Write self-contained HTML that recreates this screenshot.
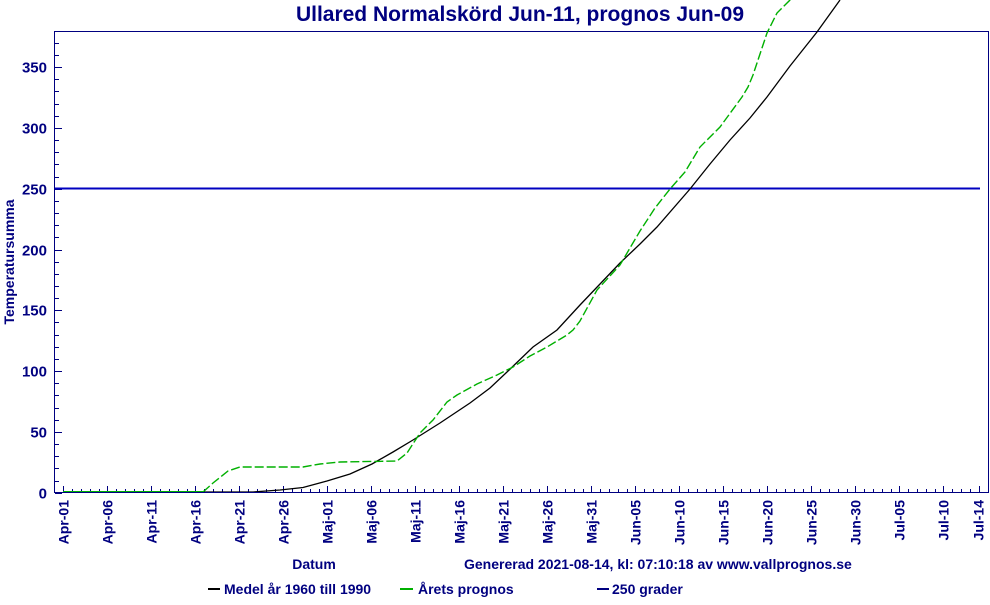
<!DOCTYPE html>
<html><head><meta charset="utf-8"><style>
body{margin:0;background:#fff;width:990px;height:600px;overflow:hidden}
svg text{font-family:"Liberation Sans",Arial,sans-serif;font-weight:bold;fill:#000080}
</style></head><body>
<svg id="s" width="990" height="600" xmlns="http://www.w3.org/2000/svg">
<defs><clipPath id="c"><rect x="55" y="0" width="934" height="492"/></clipPath></defs>
<text x="520" y="21" font-size="21" text-anchor="middle">Ullared Normalskörd Jun-11, prognos Jun-09</text>
<rect x="54.5" y="31.5" width="934" height="461" fill="none" stroke="#000080" stroke-width="1"/>
<g id="ticks" stroke="#000080" stroke-width="1"></g>
<g id="labels"></g>
<line x1="55" y1="188.5" x2="980" y2="188.5" stroke="#0000c0" stroke-width="2"/>
<g clip-path="url(#c)">
<path id="black" fill="none" stroke="#000" stroke-width="1.3"/>
<path id="green" fill="none" stroke="#00b000" stroke-width="1.4" stroke-dasharray="9,3"/>
<line x1="63" y1="492" x2="203" y2="492" stroke="#00b000" stroke-width="2"/>
</g>
<text transform="translate(14,262) rotate(-90)" font-size="14" text-anchor="middle">Temperatursumma</text>
<text x="314" y="569" font-size="14" text-anchor="middle">Datum</text>
<text x="464" y="569" font-size="14">Genererad 2021-08-14, kl: 07:10:18 av www.vallprognos.se</text>
<line x1="208" y1="589" x2="220" y2="589" stroke="#000" stroke-width="2"/>
<text x="224" y="594" font-size="14">Medel år 1960 till 1990</text>
<line x1="400" y1="589" x2="413" y2="589" stroke="#00b000" stroke-width="2"/>
<text x="418" y="594" font-size="14">Årets prognos</text>
<line x1="597" y1="589" x2="609" y2="589" stroke="#000080" stroke-width="2"/>
<text x="612" y="594" font-size="14">250 grader</text>
</svg>
<script>
var X=d=>63.3+8.8*d, Y=v=>492.7-1.216*v;
var ns="http://www.w3.org/2000/svg";
var tk=document.getElementById('ticks'),lb=document.getElementById('labels');
function ln(x1,y1,x2,y2){var l=document.createElementNS(ns,'line');l.setAttribute('x1',x1);l.setAttribute('y1',y1);l.setAttribute('x2',x2);l.setAttribute('y2',y2);tk.appendChild(l);}
function tx(t,attrs){var e=document.createElementNS(ns,'text');for(var k in attrs)e.setAttribute(k,attrs[k]);e.textContent=t;lb.appendChild(e);}
for(var v=0;v<=370;v+=10){var y=Math.round(Y(v))+0.5;ln(55,y,v%50==0?62:59,y);if(v%50==0)tx(String(v),{x:47,y:y+5,'font-size':15,'text-anchor':'end'});}
var names=["Apr-01","Apr-06","Apr-11","Apr-16","Apr-21","Apr-26","Maj-01","Maj-06","Maj-11","Maj-16","Maj-21","Maj-26","Maj-31","Jun-05","Jun-10","Jun-15","Jun-20","Jun-25","Jun-30","Jul-05","Jul-10","Jul-14"];
for(var d=0;d<=104;d++){var x=Math.round(X(d))+0.5;ln(x,492,x,d%5==0||d==104?486:489);}
names.forEach((n,i)=>{var d=i==21?104:i*5;var x=X(d);tx(n,{transform:'translate('+(x+5)+',500) rotate(-90)','font-size':14,'text-anchor':'end'});});
function path(pts){return pts.map((p,i)=>(i?'L':'M')+p[0]+' '+p[1]).join(' ');}
var b=[[63,492],[253,492],[280,490],[303,487.5],[327,481],[350,474],[372,464],[393,452],[413,440],[440,423],[470,403],[490,388],[507,372],[533,347],[557,330],[580,305],[600,284],[620,263],[640,244],[657,227],[690,189],[710,164],[730,140],[750,118],[767,97],[790,66],[817,32],[840,0]];
var g=[[203,492],[213,483],[228,471],[240,467],[303,467],[320,464],[340,462],[397,461],[407,453],[420,433],[433,420],[447,402],[457,395],[477,384],[497,375],[513,367],[530,356],[547,347],[567,335],[573,330],[580,321],[597,290],[620,265],[640,231],[655,208],[670,189],[685,172],[700,147],[720,127],[742,97],[748,87],[753,75],[767,33],[777,13],[790,0],[795,-8]];
document.getElementById('black').setAttribute('d',path(b));
document.getElementById('green').setAttribute('d',path(g));
</script>
</body></html>
